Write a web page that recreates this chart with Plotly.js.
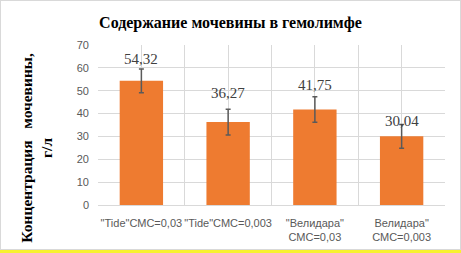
<!DOCTYPE html>
<html>
<head>
<meta charset="utf-8">
<script src="https://cdn.plot.ly/plotly-3.0.1.min.js"></script>
<style>
html,body{margin:0;padding:0;background:#fff;}
#wrap{position:relative;width:461px;height:253px;background:#fff;overflow:hidden;}
#yel{position:absolute;left:0;top:250px;width:461px;height:3px;background:#f7f230;}
#chart{position:absolute;left:0;top:0;width:459px;height:248px;border:1px solid #d9d9d9;}
</style>
</head>
<body>
<div id="wrap"><div id="chart"></div><div id="yel"></div></div>
<script>
const categories = ['"Tide"СМС=0,03', '"Tide"СМС=0,003', '"Велидара"<br>СМС=0,03', 'Велидара"<br>СМС=0,003'];
const values = [54.32, 36.27, 41.75, 30.04];
const errors = [5.2, 5.6, 5.6, 5.2];
const valueLabels = ['54,32', '36,27', '41,75', '30,04'];
const labelShift = [10, 16, 12, 3];

const xs = categories.map((c, i) => i);

const trace = {
  type: 'bar',
  x: xs,
  y: values,
  width: 0.5,
  marker: {color: '#ee7b30', line: {width: 0}},
  error_y: {type: 'data', array: errors, visible: true, color: '#5a5a5a', thickness: 1.5, width: 2.5},
  hoverinfo: 'none'
};

const annotations = xs.map((x, i) => ({
  x: x, y: values[i] + errors[i], xref: 'x', yref: 'y',
  text: valueLabels[i], showarrow: false, yanchor: 'middle', yshift: labelShift[i],
  font: {family: 'Liberation Serif, Times New Roman, serif', size: 15, color: '#404040'}
}));

annotations.push({
  xref: 'paper', yref: 'paper', x: -0.178, y: 0.36,
  text: '<b>Концентрация\u00a0\u00a0\u00a0мочевины,</b><br><b>г/л</b>',
  textangle: -90, showarrow: false, xanchor: 'center', yanchor: 'middle',
  font: {family: 'Liberation Serif, Times New Roman, serif', size: 15.5, color: '#000'}
});

const layout = {
  width: 459, height: 248,
  margin: {l: 97, r: 15, t: 44, b: 44},
  paper_bgcolor: '#fff', plot_bgcolor: '#fff',
  showlegend: false,
  title: {
    text: '<b>Содержание мочевины в гемолимфе</b>',
    x: 0.5, xref: 'container', y: 0.915, yref: 'container', yanchor: 'middle', xanchor: 'center',
    font: {family: 'Liberation Serif, Times New Roman, serif', size: 16, color: '#000'}
  },
  xaxis: {
    type: 'linear', range: [-0.5, 3.5],
    tickmode: 'array', tickvals: xs, ticktext: categories,
    showgrid: true, gridcolor: '#d9d9d9', gridwidth: 1,
    minor: {tickmode: 'linear', tick0: -0.5, dtick: 1, showgrid: true, gridcolor: '#d9d9d9', gridwidth: 1},
    zeroline: false, showline: false, ticks: '',
    ticklabelstandoff: 10,
    tickfont: {family: 'Liberation Sans, Arial, sans-serif', size: 11, color: '#595959'},
    fixedrange: true
  },
  yaxis: {
    range: [0, 70], dtick: 10, tick0: 0,
    showgrid: true, gridcolor: '#d9d9d9', gridwidth: 1,
    zeroline: true, zerolinecolor: '#d9d9d9', zerolinewidth: 1,
    showline: false, ticks: '',
    ticklabelstandoff: 8,
    tickfont: {family: 'Liberation Sans, Arial, sans-serif', size: 11, color: '#595959'},
    fixedrange: true
  },
  annotations: annotations
};

Plotly.newPlot('chart', [trace], layout, {displayModeBar: false, staticPlot: true});
</script>
</body>
</html>
